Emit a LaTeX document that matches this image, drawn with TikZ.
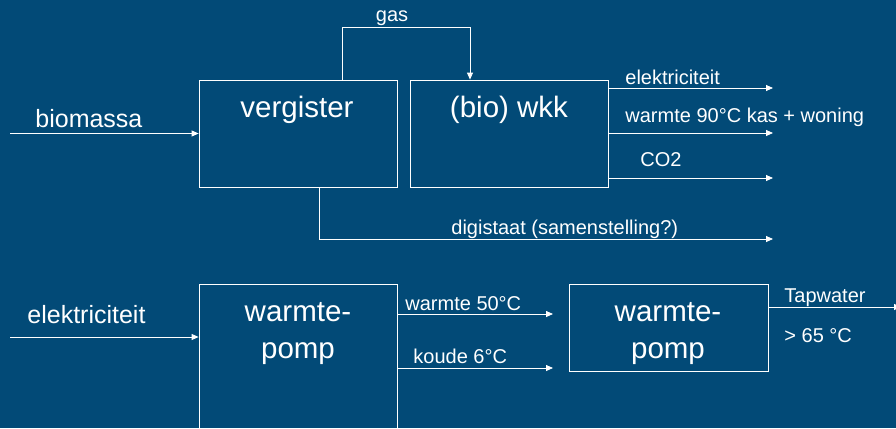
\documentclass[tikz,border=0pt]{standalone}
\usepackage{fontspec}
\setmainfont{Liberation Sans}
\usetikzlibrary{arrows.meta}
\definecolor{bgblue}{RGB}{2,74,119}
\begin{document}
\begin{tikzpicture}[x=1pt, y=-1pt, white, line width=0.8pt,
    box/.style={draw, inner sep=0pt},
    flow/.style={-{Triangle[length=7pt, width=6pt]}},
    big/.style={inner sep=0pt, anchor=base, font=\fontsize{29.5}{36}\selectfont},
    mid/.style={inner sep=0pt, anchor=base west, font=\fontsize{25}{30}\selectfont},
    small/.style={inner sep=0pt, anchor=base west, font=\fontsize{20}{24}\selectfont}]
    % background
    \fill[bgblue, use as bounding box] (0,0) rectangle (896,428);
    \clip (0,0) rectangle (896,428);
    % digester and chp
    \node[box, minimum width=198pt, minimum height=107pt] (ver) at (298,133.5) {};
    \node[box, minimum width=198pt, minimum height=107pt] (wkk) at (509.5,133.5) {};
    \node[big] (verT) at (297,117) {vergister};
    \node[big] (wkkT) at (509,117) {(bio) wkk};
    % biomass in
    \coordinate (bioIn) at (10,133.5);
    \draw[flow] (bioIn) -- (ver.west);
    \node[mid] (bioT) at (35,127) {biomassa};
    % gas
    \coordinate (gasA) at (342,27);
    \coordinate (gasB) at (470,27);
    \draw[flow] (gasA |- ver.north) -- (gasA) -- (gasB) -- (gasB |- wkk.north);
    \node[small, anchor=base] (gasT) at (392,22) {gas};
    % chp outputs
    \coordinate (elOut) at (773,88);
    \coordinate (heatOut) at (773,133);
    \coordinate (co2Out) at (773,178);
    \draw[flow] (wkk.east |- elOut) -- (elOut);
    \draw[flow] (wkk.east |- heatOut) -- (heatOut);
    \draw[flow] (wkk.east |- co2Out) -- (co2Out);
    \node[small] (elT) at (625,84) {elektriciteit};
    \node[small] (heatT) at (625,122) {warmte 90°C kas + woning};
    \node[small] (co2T) at (640,166) {CO2};
    % digestate
    \coordinate (digA) at (319,239);
    \coordinate (digOut) at (773,239);
    \draw[flow] (digA |- ver.south) -- (digA) -- (digOut);
    \node[small] (digT) at (451,234) {digistaat (samenstelling?)};
    % heat pumps
    \node[box, minimum width=198pt, minimum height=170pt] (wpA) at (298,369) {};
    \node[box, minimum width=199pt, minimum height=87pt] (wpB) at (668.5,327.5) {};
    \node[big] (wpAT) at (298,321) {warmte-};
    \node[big] (wpAB) at (298,358) {pomp};
    \node[big] (wpBT) at (668,321) {warmte-};
    \node[big] (wpBB) at (668,358) {pomp};
    % power in
    \coordinate (elIn) at (10,337);
    \draw[flow] (elIn) -- (elIn -| wpA.west);
    \node[mid] (elInT) at (27,323) {elektriciteit};
    % between the pumps
    \coordinate (w50) at (553,314);
    \coordinate (cold) at (553,368);
    \draw[flow] (w50 -| wpA.east) -- (w50);
    \draw[flow] (cold -| wpA.east) -- (cold);
    \node[small] (w50T) at (405,310) {warmte 50°C};
    \node[small] (coldT) at (413,363) {koude 6°C};
    % tap water
    \coordinate (tapOut) at (901,307);
    \draw[flow] (wpB.east |- tapOut) -- (tapOut);
    \node[small] (tapT) at (784,302) {Tapwater};
    \node[small] (tapC) at (784,342) {> 65 °C};
\end{tikzpicture}
\end{document}
